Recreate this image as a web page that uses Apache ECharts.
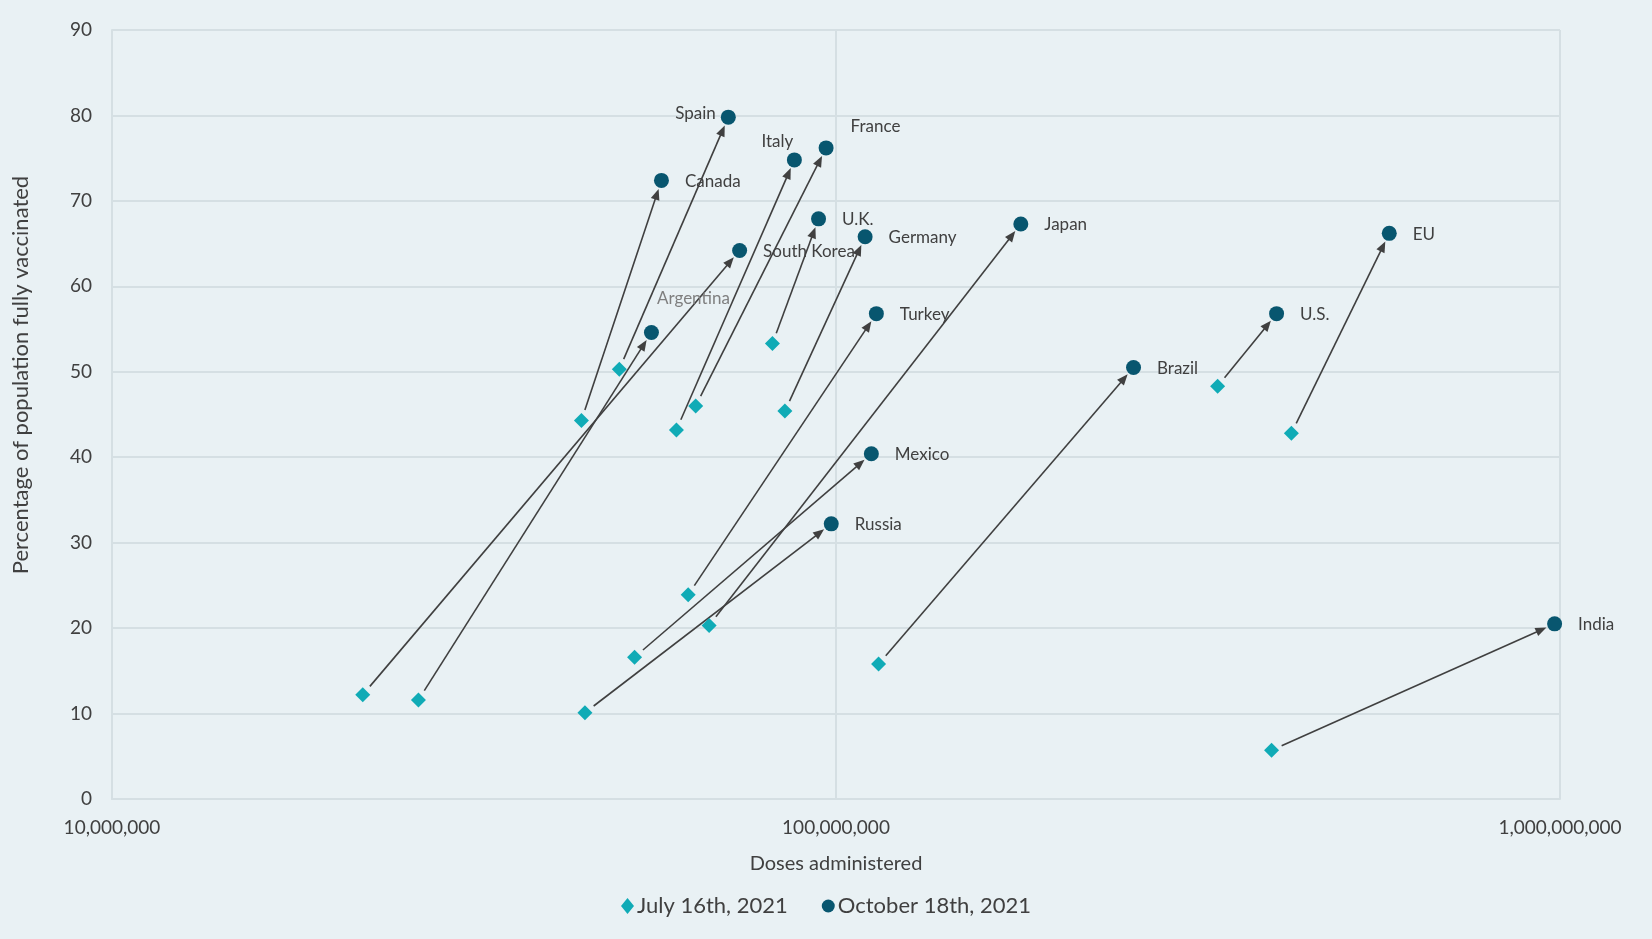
<!DOCTYPE html>
<html>
<head>
<meta charset="utf-8">
<script src="https://cdn.jsdelivr.net/npm/echarts@6/dist/echarts.min.js"></script>
<style>
html,body{margin:0;padding:0;background:#E9F1F4;}
#chart{width:1652px;height:939px;}
</style>
</head>
<body>
<div id="chart"></div>
<script>
// ---- data ----
const countries = ['Spain','Italy','France','Canada','U.K.','Germany','South Korea','Argentina','Japan','Turkey','Mexico','Russia','Brazil','U.S.','EU','India'];
const julyDoses = [50.2e6, 60.2e6, 64.0e6, 44.5e6, 81.7e6, 85.0e6, 22.2e6, 26.5e6, 66.8e6, 62.5e6, 52.7e6, 45.0e6, 114.5e6, 336.6e6, 425.6e6, 399.6e6];
const julyPct   = [50.3, 43.2, 46.0, 44.3, 53.3, 45.4, 12.2, 11.6, 20.3, 23.9, 16.6, 10.1, 15.8, 48.3, 42.8, 5.7];
const octDoses  = [71.0e6, 87.6e6, 96.9e6, 57.4e6, 94.6e6, 109.7e6, 73.6e6, 55.6e6, 180e6, 113.7e6, 111.9e6, 98.5e6, 257.6e6, 406e6, 581e6, 983e6];
const octPct    = [79.8, 74.8, 76.2, 72.4, 67.9, 65.8, 64.2, 54.6, 67.3, 56.8, 40.4, 32.2, 50.5, 56.8, 66.2, 20.5];
const xTickLabels = {1e7:'10,000,000', 1e8:'100,000,000', 1e9:'1,000,000,000'};
const seriesNames = ['July 16th, 2021', 'October 18th, 2021'];

// ---- label placement (style only) ----
const FONT = 'Lato';
const TEXT = '#404040';
const labelStyle = {
  'Spain': {position:'left', distance:5, offset:[0,-4]},
  'Italy': {position:'inside', offset:[-17,-18]},
  'France': {position:'right', distance:17, offset:[0,-21]},
  'Argentina': {position:'inside', offset:[42,-34], color:'#7F7F7F'}
};

const julyData = countries.map((c,i)=>[julyDoses[i], julyPct[i]]);
const octData = countries.map((c,i)=>{
  const ls = labelStyle[c] || {position:'right', distance:16, offset:[0,1]};
  return {value:[octDoses[i], octPct[i]], name:c, label:Object.assign({show:true, formatter:c}, ls)};
});
const arrowData = countries.map((c,i)=>[julyDoses[i], julyPct[i], octDoses[i], octPct[i]]);

const chart = echarts.init(document.getElementById('chart'));
chart.setOption({
  backgroundColor:'#E9F1F4',
  animation:false,
  textStyle:{fontFamily:FONT},
  grid:{left:112, right:92, top:30, bottom:140, containLabel:false},
  legend:{
    data:[{name:seriesNames[0], icon:'diamond'},{name:seriesNames[1], icon:'circle'}],
    bottom:17, left:'center',
    itemWidth:13, itemHeight:16, itemGap:34,
    textStyle:{fontFamily:FONT, fontSize:22, color:TEXT, padding:[0,0,0,-2]}
  },
  xAxis:{
    type:'log', logBase:10, min:1e7, max:1e9,
    name:'Doses administered', nameLocation:'middle', nameGap:55,
    nameTextStyle:{fontFamily:FONT, fontSize:20, color:TEXT},
    axisLine:{show:true, lineStyle:{color:'#D5DFE3', width:2}},
    axisTick:{show:false},
    axisLabel:{fontFamily:FONT, fontSize:19, color:TEXT, margin:19, formatter:v=>xTickLabels[Math.round(v)] || ''},
    splitLine:{show:true, lineStyle:{color:'#D5DFE3', width:2}}
  },
  yAxis:{
    type:'value', min:0, max:90, interval:10,
    axisLine:{show:true, lineStyle:{color:'#D5DFE3', width:2}},
    axisTick:{show:false},
    axisLabel:{fontFamily:FONT, fontSize:19, color:TEXT, margin:20},
    splitLine:{show:true, lineStyle:{color:'#D5DFE3', width:2}}
  },
  graphic:[{
    type:'text', x:21, y:375, rotation:Math.PI/2,
    style:{text:'Percentage of population fully vaccinated', fontFamily:FONT, fontSize:22, fill:TEXT, align:'center', verticalAlign:'middle'}
  }],
  series:[
    {
      type:'custom', name:'arrows', z:1,
      encode:{x:[0,2], y:[1,3]},
      data:arrowData,
      renderItem:function(params, api){
        const p1 = api.coord([api.value(0), api.value(1)]);
        const p2 = api.coord([api.value(2), api.value(3)]);
        const dx = p2[0]-p1[0], dy = p2[1]-p1[1];
        const len = Math.hypot(dx,dy);
        const ux = dx/len, uy = dy/len;
        const startGap = 11, endGap = 9, headLen = 11, hw = 4.5;
        const s = [p1[0]+ux*startGap, p1[1]+uy*startGap];
        const tip = [p2[0]-ux*endGap, p2[1]-uy*endGap];
        const base = [tip[0]-ux*headLen, tip[1]-uy*headLen];
        const nx = -uy, ny = ux;
        return {type:'group', children:[
          {type:'line', shape:{x1:s[0], y1:s[1], x2:base[0]+ux*2, y2:base[1]+uy*2}, style:{stroke:'#404040', lineWidth:1.6}},
          {type:'polygon', shape:{points:[tip,[base[0]+nx*hw, base[1]+ny*hw],[base[0]-nx*hw, base[1]-ny*hw]]}, style:{fill:'#404040'}}
        ]};
      }
    },
    {
      type:'scatter', name:seriesNames[0], z:3,
      symbol:'diamond', symbolSize:[15,15],
      itemStyle:{color:'#10ABB6', opacity:1},
      data:julyData
    },
    {
      type:'scatter', name:seriesNames[1], z:4,
      symbol:'circle', symbolSize:15,
      itemStyle:{color:'#08566F', opacity:1},
      label:{fontFamily:FONT, fontSize:17, color:TEXT},
      data:octData
    }
  ]
});
</script>
</body>
</html>
